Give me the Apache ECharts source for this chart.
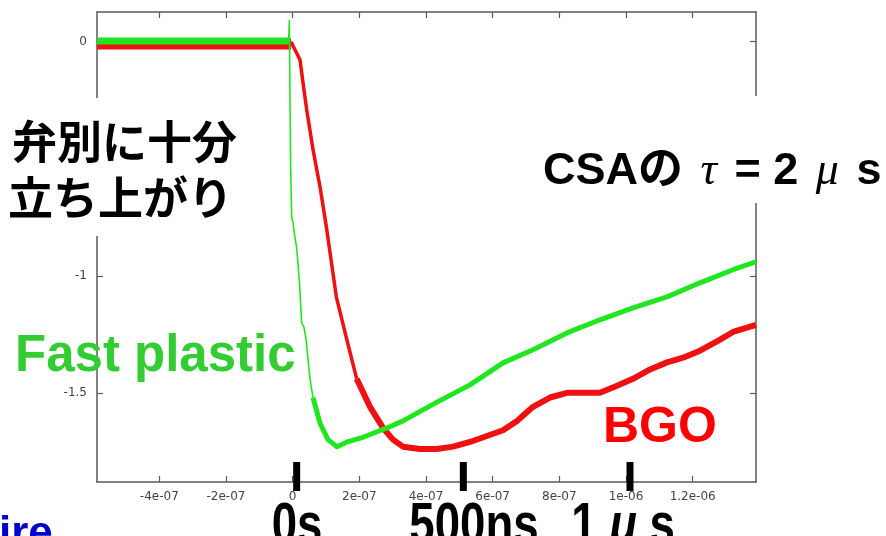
<!DOCTYPE html>
<html>
<head>
<meta charset="utf-8">
<script src="https://cdn.jsdelivr.net/npm/echarts@6/dist/echarts.min.js"></script>
<style>
html, body { margin: 0; padding: 0; background: #fff; }
#chart { width: 886px; height: 536px; }
</style>
</head>
<body>
<div id="chart"></div>
<script>
// time axis in ns (labels shown in seconds like gnuplot), signal in V
const xTickValues = [-400, -200, 0, 200, 400, 600, 800, 1000, 1200];
const xTickLabels = ['-4e-07', '-2e-07', '0', '2e-07', '4e-07', '6e-07', '8e-07', '1e-06', '1.2e-06'];
const yTickValues = [0, -0.5, -1, -1.5];
const yTickLabels = ['0', '-0.5', '-1', '-1.5'];

// Fast plastic (green)
const greenBase = [[-587, 0.003], [-12, 0.003]];
const greenFall = [[-12, 0.0], [-10, 0.09], [-8, -0.25], [-6, -0.54], [-3, -0.75], [2, -0.78], [5, -0.82],
  [12, -0.88], [20, -1.02], [27, -1.2], [34, -1.22], [40, -1.27], [52, -1.44], [61, -1.52]];
const greenTail = [[61, -1.52], [82, -1.63], [106, -1.7], [133, -1.73], [163, -1.71], [211, -1.69], [283, -1.65],
  [331, -1.62], [433, -1.54], [532, -1.466], [631, -1.372], [721, -1.316], [823, -1.244], [922, -1.188],
  [1021, -1.137], [1123, -1.09], [1222, -1.03], [1321, -0.974], [1390, -0.94]];

// BGO (red)
const redBase = [[-587, -0.01], [-5, -0.01]];
const redFall = [[-5, 0.0], [7, -0.034], [22, -0.077], [31, -0.175], [42, -0.29], [61, -0.46], [82, -0.62],
  [101, -0.79], [131, -1.09], [162, -1.27], [192, -1.44]];
const redTail = [[192, -1.44], [232, -1.56], [271, -1.65], [301, -1.7], [331, -1.73], [382, -1.74], [433, -1.74],
  [481, -1.73], [532, -1.71], [631, -1.66], [673, -1.62], [721, -1.56], [772, -1.52], [823, -1.5], [871, -1.5],
  [922, -1.5], [973, -1.47], [1021, -1.44], [1072, -1.4], [1123, -1.37], [1171, -1.35], [1222, -1.32],
  [1273, -1.28], [1321, -1.24], [1390, -1.21]];

// time marks under the plot
const markerTimes = [0, 500, 1000];
const markerLabels = ['0s', '500ns', '{n|1 }{g|μ}{n| s}'];

const GREEN = '#1fe61f';
const RED = '#ee1111';
const AXIS = '#5a5a5a';

function lookup(values, labels, v) {
  const i = values.findIndex(x => Math.abs(x - v) < 1e-6);
  return i < 0 ? '' : labels[i];
}

function line(name, data, color, width) {
  return {
    name: name,
    type: 'line',
    data: data,
    showSymbol: false,
    symbol: 'none',
    clip: true,
    lineStyle: { color: color, width: width, join: 'round', cap: 'butt' },
    z: color === GREEN ? 4 : 3,
  };
}

const xMin = -587, xMax = 1390, yMin = -1.881, yMax = 0.127;

const chart = echarts.init(document.getElementById('chart'));
chart.setOption({
  animation: false,
  backgroundColor: '#fff',
  grid: { left: 97, right: 130, top: 12, bottom: 54 },
  xAxis: [
    {
      type: 'value', min: xMin, max: xMax, position: 'bottom',
      axisLine: { show: true, onZero: false, lineStyle: { color: AXIS, width: 1.5 } },
      axisTick: { show: true, inside: true, length: 6, customValues: xTickValues, lineStyle: { color: AXIS, width: 1.2 } },
      axisLabel: {
        show: true, customValues: xTickValues, margin: 9, color: '#444', fontSize: 12, fontFamily: 'DejaVu Sans',
        formatter: v => lookup(xTickValues, xTickLabels, v),
      },
      splitLine: { show: false },
    },
    {
      type: 'value', min: xMin, max: xMax, position: 'top',
      axisLine: { show: true, onZero: false, lineStyle: { color: AXIS, width: 1.5 } },
      axisTick: { show: true, inside: true, length: 6, customValues: xTickValues, lineStyle: { color: AXIS, width: 1.2 } },
      axisLabel: { show: false },
      splitLine: { show: false },
    },
  ],
  yAxis: [
    {
      type: 'value', min: yMin, max: yMax, position: 'left',
      axisLine: { show: true, onZero: false, lineStyle: { color: AXIS, width: 1.5 } },
      axisTick: { show: true, inside: true, length: 6, customValues: yTickValues, lineStyle: { color: AXIS, width: 1.2 } },
      axisLabel: {
        show: true, customValues: yTickValues, margin: 10, color: '#444', fontSize: 12, fontFamily: 'DejaVu Sans',
        formatter: v => lookup(yTickValues, yTickLabels, v),
      },
      splitLine: { show: false },
    },
    {
      type: 'value', min: yMin, max: yMax, position: 'right',
      axisLine: { show: true, onZero: false, lineStyle: { color: AXIS, width: 1.5 } },
      axisTick: { show: true, inside: true, length: 6, customValues: yTickValues, lineStyle: { color: AXIS, width: 1.2 } },
      axisLabel: { show: false },
      splitLine: { show: false },
    },
  ],
  series: [
    line('BGO base', redBase, RED, 11),
    line('BGO fall', redFall, RED, 3.5),
    line('BGO', redTail, RED, 6),
    line('Fast plastic base', greenBase, GREEN, 7),
    line('Fast plastic fall', greenFall, GREEN, 1.6),
    line('Fast plastic', greenTail, GREEN, 5),
  ],
});

// slide annotations on top of the plot
const jp = "'Noto Sans CJK JP', sans-serif";
const sans = "'Liberation Sans', Arial, 'Noto Sans CJK JP', sans-serif";

const graphics = [
  { type: 'rect', z: 100, shape: { x: 0, y: 98, width: 246, height: 138 }, style: { fill: '#fff' } },
  { type: 'rect', z: 100, shape: { x: 535, y: 96, width: 351, height: 107 }, style: { fill: '#fff' } },
  { type: 'text', z: 101, style: { text: '弁別に十分', x: 237, y: 142, textAlign: 'right', textVerticalAlign: 'middle',
    fontSize: 45, fontWeight: 'bold', fontFamily: jp, fill: '#000' } },
  { type: 'text', z: 101, style: { text: '立ち上がり', x: 8, y: 198, textAlign: 'left', textVerticalAlign: 'middle',
    fontSize: 45, fontWeight: 'bold', fontFamily: jp, fill: '#000' } },
  { type: 'text', z: 101, style: {
    text: '{a|CSAの }{g|τ}{a| = 2 }{g|μ}{a| s}', x: 543, y: 172, textAlign: 'left', textVerticalAlign: 'middle',
    rich: {
      a: { fontSize: 45, fontWeight: 'bold', fontFamily: sans, fill: '#000' },
      g: { fontSize: 46, fontStyle: 'italic', fontFamily: "'Liberation Serif', serif", fill: '#000', padding: [0, 5] },
    } } },
  { type: 'text', z: 101, style: { text: 'Fast plastic', x: 15, y: 357, textAlign: 'left', textVerticalAlign: 'middle',
    fontSize: 51, fontWeight: 'bold', fontFamily: sans, fill: '#33cc33' } },
  { type: 'text', z: 101, style: { text: 'BGO', x: 603, y: 428, textAlign: 'left', textVerticalAlign: 'middle',
    fontSize: 50, fontWeight: 'bold', fontFamily: sans, fill: '#ff0000' } },
  { type: 'text', z: 101, style: { text: 'ire', x: -1, y: 535, textAlign: 'left', textVerticalAlign: 'middle',
    fontSize: 44, fontWeight: 'bold', fontFamily: sans, fill: '#0000cc' } },
];

const labelX = [297, 474, 623];
markerTimes.forEach((t, i) => {
  const px = chart.convertToPixel({ xAxisIndex: 0 }, t);
  graphics.push({ type: 'rect', z: 101, shape: { x: px + 0.5, y: 462, width: 7, height: 29 }, style: { fill: '#000' } });
  graphics.push({ type: 'text', z: 101, x: labelX[i], y: 527, scaleX: 0.8, style: {
    text: markerLabels[i], x: 0, y: 0, textAlign: 'center', textVerticalAlign: 'middle',
    fontSize: 57, fontWeight: 'bold', fontFamily: sans, fill: '#000',
    rich: {
      n: { fontSize: 57, fontWeight: 'bold', fontFamily: sans, fill: '#000' },
      g: { fontSize: 57, fontStyle: 'italic', fontWeight: 'bold', fontFamily: sans, fill: '#000' },
    } } });
});

chart.setOption({ graphic: { elements: graphics } });
</script>
</body>
</html>
